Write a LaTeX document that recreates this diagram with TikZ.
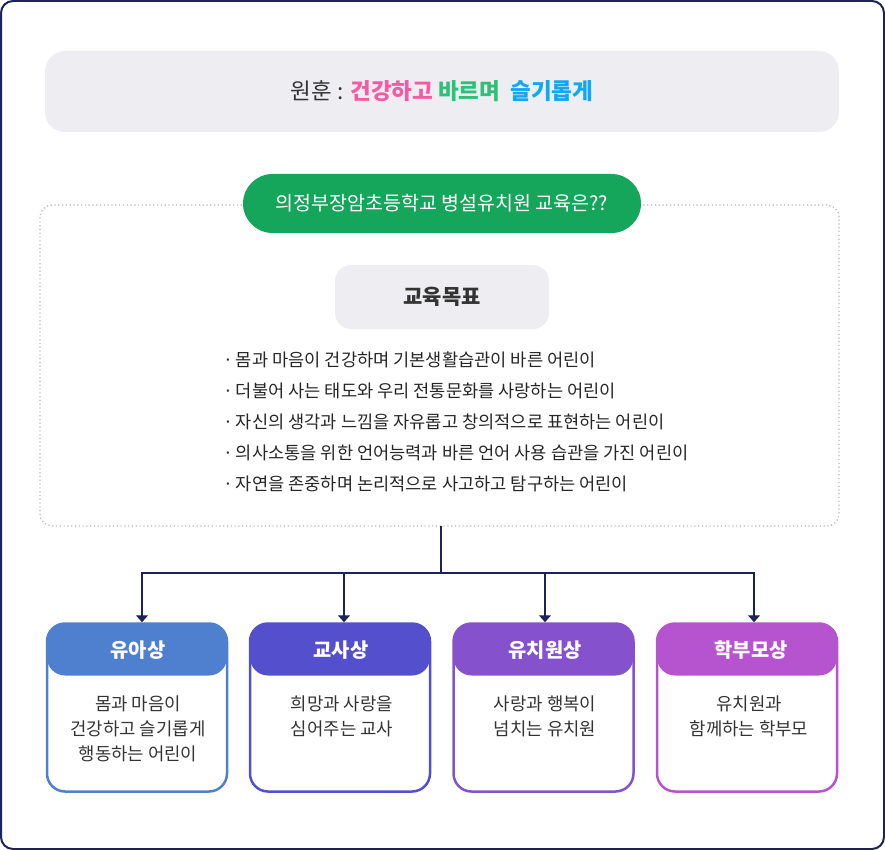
\documentclass[tikz,border=0pt]{standalone}
\usepackage{fontspec}
\setmainfont{Noto Sans CJK KR}
\usetikzlibrary{arrows.meta}

\definecolor{navy}{HTML}{1C2457}
\definecolor{paleBg}{HTML}{EEEDF2}
\definecolor{inkGray}{HTML}{333333}
\definecolor{mottoPink}{HTML}{F35BA5}
\definecolor{mottoGreen}{HTML}{2EC078}
\definecolor{mottoBlue}{HTML}{10A8F0}
\definecolor{pillGreen}{HTML}{15A65B}
\definecolor{cardBlue}{HTML}{4F80D0}
\definecolor{cardIndigo}{HTML}{5450CD}
\definecolor{cardViolet}{HTML}{8551CC}
\definecolor{cardOrchid}{HTML}{B653CF}

\tikzset{
  card/.style={draw=#1, fill=white, line width=2.5pt, rounded corners=18pt,
    minimum width=180pt, minimum height=168pt, inner sep=0pt,
    path picture={\fill[#1] (path picture bounding box.north west)
      rectangle ([yshift=-52pt]path picture bounding box.north east);}},
  head/.style={text=white, font=\fontsize{19.8}{22}\selectfont\bfseries, inner sep=0pt},
  body/.style={text=inkGray, font=\fontsize{17.8}{25}\selectfont, align=center, inner sep=0pt, anchor=north},
  conn/.style={draw=navy, line width=1.2pt},
  tip/.style={-{Triangle[width=12pt,length=7pt]}}
}

\begin{document}
\begin{tikzpicture}[x=1pt,y=-1pt]

\useasboundingbox (0,0) rectangle (885,850);
\draw[navy, line width=2pt, rounded corners=12pt] (1,1) rectangle (884,849);

\node[fill=paleBg, rounded corners=20pt, minimum width=794pt, minimum height=81pt,
  font=\fontsize{22.5}{26}\selectfont] (motto) at (442,91.5)
  {\textcolor{inkGray}{원훈 :} \textcolor{mottoPink}{\bfseries 건강하고} \textcolor{mottoGreen}{\bfseries 바르며}\ \ \textcolor{mottoBlue}{\bfseries 슬기롭게}};

\node[draw=black!28, dash pattern=on 1.2pt off 2.6pt, line width=1.3pt, rounded corners=12pt,
  minimum width=799pt, minimum height=321pt] (frame) at (439.5,365.5) {};

\node[fill=pillGreen, rounded corners=29.5pt, minimum width=398pt, minimum height=59pt,
  text=white, font=\fontsize{19.5}{22}\selectfont] (pill) at (442,203.5) {의정부장암초등학교 병설유치원 교육은??};

\node[fill=paleBg, rounded corners=16pt, minimum width=214pt, minimum height=64pt,
  text=inkGray, font=\fontsize{21}{24}\selectfont\bfseries] (goal) at (442,297) {교육목표};

\node[anchor=west, align=left, inner sep=0pt, text=black!85,
  font=\fontsize{17.6}{31}\selectfont] (goals) at (223,422)
  {·\,몸과 마음이 건강하며 기본생활습관이 바른 어린이\\
   ·\,더불어 사는 태도와 우리 전통문화를 사랑하는 어린이\\
   ·\,자신의 생각과 느낌을 자유롭고 창의적으로 표현하는 어린이\\
   ·\,의사소통을 위한 언어능력과 바른 언어 사용 습관을 가진 어린이\\
   ·\,자연을 존중하며 논리적으로 사고하고 탐구하는 어린이};

\node[card=cardBlue] (yua) at (137,707.5) {};
\node[card=cardIndigo] (gyosa) at (340,707.5) {};
\node[card=cardViolet] (yuchi) at (543.5,707.5) {};
\node[card=cardOrchid] (parent) at (747,707.5) {};

\node[head] (yuaHead) at (138,650) {유아상};
\node[head] (gyosaHead) at (341,650) {교사상};
\node[head] (yuchiHead) at (545,650) {유치원상};
\node[head] (parentHead) at (751,650) {학부모상};

\node[body] (yuaText) at (138,696) {몸과 마음이\\건강하고 슬기롭게\\행동하는 어린이};
\node[body] (gyosaText) at (342,696) {희망과 사랑을\\심어주는 교사};
\node[body] (yuchiText) at (545,696) {사랑과 행복이\\넘치는 유치원};
\node[body] (parentText) at (749,696) {유치원과\\함께하는 학부모};

\coordinate (hub) at (441,573);
\draw[conn] (441,526) -- (hub);
\draw[conn, tip] (hub) -| ([xshift=5pt]yua.north);
\draw[conn, tip] (hub) -| ([xshift=4pt]gyosa.north);
\draw[conn, tip] (hub) -| ([xshift=1.5pt]yuchi.north);
\draw[conn, tip] (hub) -| ([xshift=7pt]parent.north);

\end{tikzpicture}
\end{document}
